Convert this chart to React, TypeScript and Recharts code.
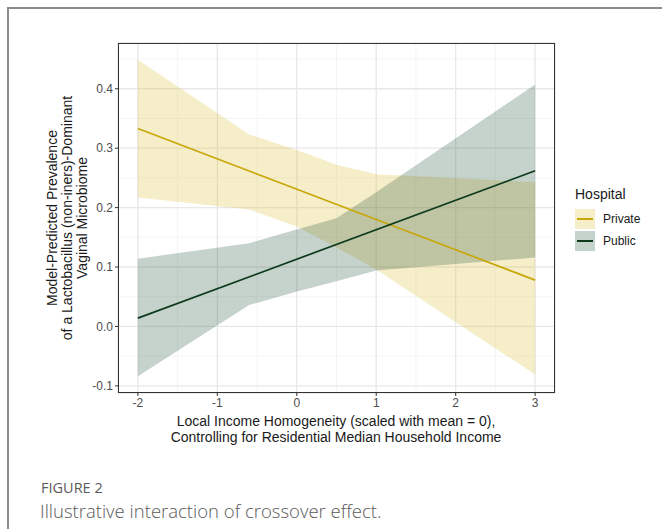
import React from "react";
import { ComposedChart, Area, Line, XAxis, YAxis, CartesianGrid } from "recharts";

// ---- data ----
const xKnots = [-2, -0.6, 0, 0.5, 1, 3];
const privateLow = [0.217, 0.197, 0.168, 0.133, 0.096, -0.081];
const privateHigh = [0.449, 0.323, 0.297, 0.272, 0.256, 0.243];
const publicLow = [-0.084, 0.036, 0.059, 0.076, 0.094, 0.116];
const publicHigh = [0.114, 0.14, 0.163, 0.182, 0.226, 0.407];

const lineX = [-2, 3];
const privateFit = [0.333, 0.078];
const publicFit = [0.014, 0.262];

const xTicks = [-2, -1, 0, 1, 2, 3];
const yTicks = [-0.1, 0, 0.1, 0.2, 0.3, 0.4];
const xMinor = [-1.5, -0.5, 0.5, 1.5, 2.5];
const yMinor = [-0.05, 0.05, 0.15, 0.25, 0.35, 0.45];

const legendItems = ["Private", "Public"];

const table = xKnots.map((x, i) => {
  const li = lineX.indexOf(x);
  return {
    x,
    privateBand: [privateLow[i], privateHigh[i]],
    publicBand: [publicLow[i], publicHigh[i]],
    privateFit: li >= 0 ? privateFit[li] : null,
    publicFit: li >= 0 ? publicFit[li] : null,
  };
});

const PRIV_LINE = "#c9a70c";
const PUB_LINE = "#0e3b1e";
const PRIV_FILL = "#ddbb22";
const PUB_FILL = "#1b4d32";

const font = "'Liberation Sans', Arial, sans-serif";
const tickStyle = { fill: "#4d4d4d", fontSize: 12, fontFamily: font };

const X_DOMAIN: [number, number] = [-2.25, 3.25];
const Y_DOMAIN: [number, number] = [-0.112, 0.477];

export default function App() {
  return (
    <div style={{ position: "absolute", left: 0, top: 0, width: 662, height: 529, background: "#fff" }}>
      <div
        style={{
          position: "absolute",
          left: 7,
          top: 7,
          width: 660,
          height: 530,
          borderLeft: "2px solid #8c8c8c",
          borderTop: "2px solid #8c8c8c",
          boxSizing: "border-box",
        }}
      />
      <div style={{ position: "absolute", left: 0, top: 0 }}>
        <ComposedChart
          width={662}
          height={529}
          data={table}
          margin={{ top: 43, right: 107, left: 0, bottom: 106 }}
        >
          <XAxis
            xAxisId="minor"
            dataKey="x"
            type="number"
            domain={X_DOMAIN}
            ticks={xMinor}
            hide
            allowDataOverflow
          />
          <YAxis yAxisId="minor" type="number" domain={Y_DOMAIN} ticks={yMinor} hide allowDataOverflow />
          <CartesianGrid xAxisId="minor" yAxisId="minor" stroke="#f3f3f3" strokeWidth={0.8} />
          <CartesianGrid stroke="#e8e8e8" strokeWidth={1.3} />
          <XAxis
            dataKey="x"
            type="number"
            domain={X_DOMAIN}
            ticks={xTicks}
            allowDataOverflow
            height={30}
            tick={tickStyle}
            tickSize={3}
            tickLine={{ stroke: "#333" }}
            axisLine={false}
          />
          <YAxis
            type="number"
            domain={Y_DOMAIN}
            ticks={yTicks}
            allowDataOverflow
            width={118}
            tick={tickStyle}
            tickSize={3}
            tickLine={{ stroke: "#333" }}
            axisLine={false}
            tickFormatter={(v: number) => v.toFixed(1)}
          />
          <Area
            dataKey="privateBand"
            type="linear"
            stroke="none"
            fill={PRIV_FILL}
            fillOpacity={0.25}
            isAnimationActive={false}
          />
          <Area
            dataKey="publicBand"
            type="linear"
            stroke="none"
            fill={PUB_FILL}
            fillOpacity={0.25}
            isAnimationActive={false}
          />
          <Line
            dataKey="privateFit"
            type="linear"
            stroke={PRIV_LINE}
            strokeWidth={1.7}
            dot={false}
            connectNulls
            isAnimationActive={false}
          />
          <Line
            dataKey="publicFit"
            type="linear"
            stroke={PUB_LINE}
            strokeWidth={1.7}
            dot={false}
            connectNulls
            isAnimationActive={false}
          />
        </ComposedChart>
      </div>
      {/* panel border */}
      <div
        style={{
          position: "absolute",
          left: 118,
          top: 43,
          width: 437,
          height: 350,
          border: "1px solid #333",
          boxSizing: "border-box",
          pointerEvents: "none",
        }}
      />
      {/* y-axis title */}
      <div
        style={{
          position: "absolute",
          left: 67,
          top: 218,
          transform: "translate(-50%, -50%) rotate(-90deg)",
          whiteSpace: "nowrap",
          textAlign: "center",
          fontFamily: font,
          fontSize: 14,
          lineHeight: "15px",
          color: "#1a1a1a",
        }}
      >
        Model-Predicted Prevalence
        <br />
        of a Lactobacillus (non-iners)-Dominant
        <br />
        Vaginal Microbiome
      </div>
      {/* x-axis title */}
      <div
        style={{
          position: "absolute",
          left: 336,
          top: 413,
          transform: "translateX(-50%)",
          whiteSpace: "nowrap",
          textAlign: "center",
          fontFamily: font,
          fontSize: 14,
          lineHeight: "16px",
          color: "#1a1a1a",
        }}
      >
        Local Income Homogeneity (scaled with mean = 0),
        <br />
        Controlling for Residential Median Household Income
      </div>
      {/* legend */}
      <div style={{ position: "absolute", left: 575, top: 186, fontFamily: font, color: "#1a1a1a" }}>
        <div style={{ fontSize: 14, lineHeight: "16px", marginBottom: 6 }}>Hospital</div>
        {legendItems.map((name, i) => (
          <div key={name} style={{ display: "flex", alignItems: "center", height: 22 }}>
            <div
              style={{
                width: 20,
                height: 20,
                position: "relative",
                background: i === 0 ? "rgba(221,187,34,0.25)" : "rgba(27,77,50,0.25)",
              }}
            >
              <div
                style={{
                  position: "absolute",
                  left: 2,
                  right: 2,
                  top: 9,
                  height: 2,
                  background: i === 0 ? PRIV_LINE : PUB_LINE,
                }}
              />
            </div>
            <div style={{ fontSize: 12, marginLeft: 8 }}>{name}</div>
          </div>
        ))}
      </div>
      {/* caption */}
      <div
        style={{
          position: "absolute",
          left: 41,
          top: 478,
          fontFamily: "'Open Sans', sans-serif",
          fontSize: 14.5,
          fontWeight: 500,
          color: "#5a5a5a",
          lineHeight: "20px",
        }}
      >
        FIGURE 2
      </div>
      <div
        style={{
          position: "absolute",
          left: 40,
          top: 498,
          fontFamily: "'Open Sans', sans-serif",
          fontSize: 18.5,
          fontWeight: 300,
          color: "#5a5a5a",
          lineHeight: "26px",
          whiteSpace: "nowrap",
        }}
      >
        Illustrative interaction of crossover effect.
      </div>
    </div>
  );
}
